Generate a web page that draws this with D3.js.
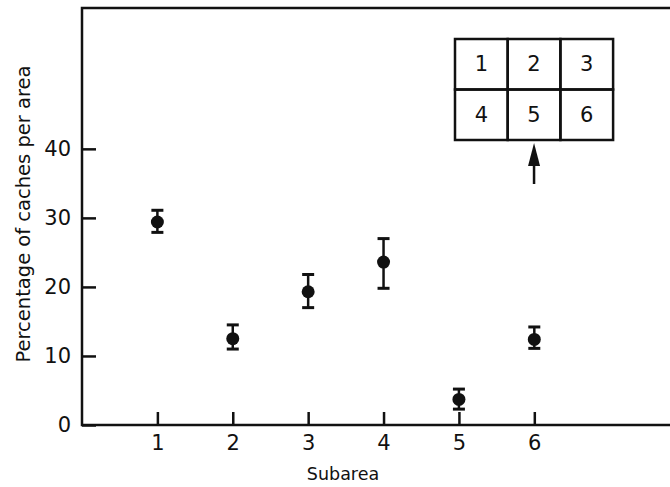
<!DOCTYPE html>
<html>
<head>
<meta charset="utf-8">
<title>Percentage of caches per subarea</title>
<script src="https://cdnjs.cloudflare.com/ajax/libs/d3/7.8.5/d3.min.js"></script>
<style>
  body { margin: 0; background: #fff; }
  text { font-family: "DejaVu Sans", sans-serif; fill: #111; }
</style>
</head>
<body>
<div id="chart"></div>
<script>
// data
var subareas = [1, 2, 3, 4, 5, 6];
var means    = [29.4, 12.5, 19.3, 23.6, 3.7, 12.4];
var upper    = [31.1, 14.5, 21.8, 27.0, 5.2, 14.2];
var lower    = [27.9, 11.0, 17.0, 19.8, 2.3, 11.1];
var yTicks   = [0, 10, 20, 30, 40];
var gridLabels = [["1", "2", "3"], ["4", "5", "6"]];

var width = 670, height = 487;
var svg = d3.select("#chart").append("svg")
    .attr("width", width).attr("height", height);

var x = d3.scaleLinear().domain([0, 7.8]).range([82, 670]);
var y = d3.scaleLinear().domain([0, 60.4]).range([425, 8]);

var ink = "#111";
var font = "DejaVu Sans, sans-serif";

// frame: left axis, top line, bottom axis
svg.append("path")
    .attr("d", "M670," + y(60.4) + "H" + x(0) + "V" + y(0) + "H670")
    .attr("fill", "none").attr("stroke", ink).attr("stroke-width", 2.5);

// y axis, ticks pointing inward
var yAxis = d3.axisLeft(y).tickValues(yTicks).tickSizeInner(-14).tickSizeOuter(0).tickPadding(11);
var gy = svg.append("g").attr("transform", "translate(" + x(0) + ",0)").call(yAxis);
gy.select(".domain").remove();
gy.selectAll("line").attr("stroke", ink).attr("stroke-width", 2.5);
gy.selectAll("text").attr("font-size", 21).attr("fill", ink).attr("font-family", font);

// x axis, ticks pointing up
var xAxis = d3.axisBottom(x).tickValues(subareas).tickSizeInner(-13).tickSizeOuter(0).tickPadding(12);
var gx = svg.append("g").attr("transform", "translate(0," + y(0) + ")").call(xAxis);
gx.select(".domain").remove();
gx.selectAll("line").attr("stroke", ink).attr("stroke-width", 2.5);
gx.selectAll("text").attr("font-size", 21).attr("fill", ink).attr("dy", "0.62em")
    .attr("font-family", font);

// axis titles
svg.append("text")
    .attr("transform", "translate(24,214) rotate(-90)")
    .attr("text-anchor", "middle").attr("dominant-baseline", "middle")
    .attr("font-size", 19.5)
    .text("Percentage of caches per area");
svg.append("text")
    .attr("x", 343).attr("y", 475)
    .attr("text-anchor", "middle").attr("dominant-baseline", "middle")
    .attr("font-size", 17.5)
    .text("Subarea");

// error bars and points
var pts = subareas.map(function(s, i) {
  return { s: s, m: means[i], hi: upper[i], lo: lower[i] };
});
var g = svg.append("g");
g.selectAll("line.bar").data(pts).enter().append("line")
    .attr("x1", function(d) { return x(d.s); }).attr("x2", function(d) { return x(d.s); })
    .attr("y1", function(d) { return y(d.hi); }).attr("y2", function(d) { return y(d.lo); })
    .attr("stroke", ink).attr("stroke-width", 2.5);
["hi", "lo"].forEach(function(k) {
  g.selectAll("line.cap-" + k).data(pts).enter().append("line")
      .attr("class", "cap-" + k)
      .attr("x1", function(d) { return x(d.s) - 6; }).attr("x2", function(d) { return x(d.s) + 6; })
      .attr("y1", function(d) { return y(d[k]); }).attr("y2", function(d) { return y(d[k]); })
      .attr("stroke", ink).attr("stroke-width", 3);
});
g.selectAll("circle").data(pts).enter().append("circle")
    .attr("cx", function(d) { return x(d.s); })
    .attr("cy", function(d) { return y(d.m); })
    .attr("r", 6.5).attr("fill", ink);

// inset: layout of the six subareas
var ix = 455, iy = 39, cw = 52.7, ch = 50.5;
var inset = svg.append("g");
gridLabels.forEach(function(row, r) {
  row.forEach(function(lab, c) {
    inset.append("rect")
        .attr("x", ix + c * cw).attr("y", iy + r * ch)
        .attr("width", cw).attr("height", ch)
        .attr("fill", "none").attr("stroke", ink).attr("stroke-width", 2.5);
    inset.append("text")
        .attr("x", ix + c * cw + cw / 2).attr("y", iy + r * ch + ch / 2)
        .attr("text-anchor", "middle").attr("dominant-baseline", "central")
        .attr("font-size", 21)
        .text(lab);
  });
});
// arrow pointing at subarea 5
var ax = ix + cw * 1.5, tip = iy + 2 * ch + 3;
inset.append("line").attr("x1", ax).attr("x2", ax)
    .attr("y1", tip + 20).attr("y2", tip + 41)
    .attr("stroke", ink).attr("stroke-width", 2.5);
inset.append("path")
    .attr("d", "M" + ax + "," + tip + "L" + (ax - 6) + "," + (tip + 23) + "L" + (ax + 6) + "," + (tip + 23) + "Z")
    .attr("fill", ink);
</script>
</body>
</html>
